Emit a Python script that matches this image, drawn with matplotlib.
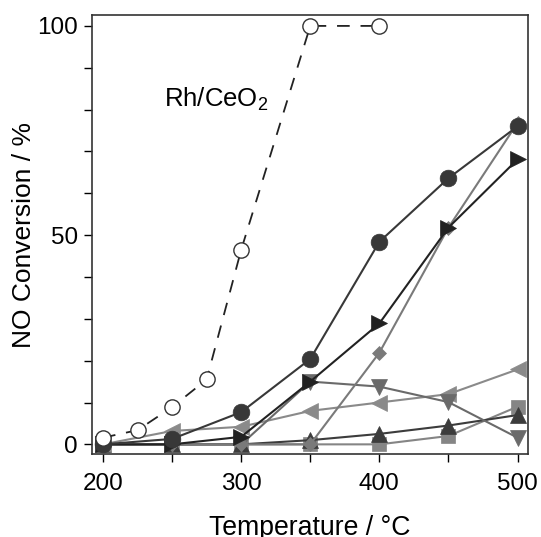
import numpy as np
import matplotlib
matplotlib.use("Agg")
import matplotlib.pyplot as plt
from matplotlib.ticker import MultipleLocator

plt.rcParams['font.family'] = ['Liberation Sans', 'DejaVu Sans']
plt.rcParams['mathtext.fontset'] = 'custom'
plt.rcParams['mathtext.rm'] = 'Liberation Sans'
plt.rcParams['mathtext.it'] = 'Liberation Sans'

# temperatures (deg C)
temp = [200, 250, 300, 350, 400, 450, 500]
temp_rh = [200, 225, 250, 275, 300, 350, 400]

# NO conversion (%)
rh_ceo2 = [1.6, 3.4, 8.9, 15.5, 46.5, 100, 100]
squares = [0, 0, 0, 0, 0, 2.0, 9.0]
up_tri = [0, 0, 0, 1.0, 2.5, 4.5, 7.0]
left_tri = [0, 3.2, 4.2, 8.0, 10.0, 12.0, 17.9]
down_tri = [0, 0, 0, 15.0, 13.8, 10.1, 1.6]
diamonds = [0, 0, 0, 0, 21.9, 51.8, 76.8]
right_tri = [0, 0, 1.8, 15.0, 28.9, 51.8, 68.1]
dark_circ = [0, 1.3, 7.7, 20.4, 48.4, 63.6, 76.0]

fig = plt.figure(figsize=(5.41, 5.37), dpi=100)
ax = fig.add_axes([0.1695, 0.1546, 0.807, 0.8174])

lw = 1.5
ax.plot(temp, squares, marker='s', ms=10, color='#858585', lw=lw, mew=0.5, zorder=2)
ax.plot(temp, up_tri, marker='^', ms=12, color='#3c3c3c', lw=lw, mew=0.5, zorder=2)
ax.plot(temp, left_tri, marker='<', ms=12, color='#8a8a8a', lw=lw, mew=0.5, zorder=2)
ax.plot(temp, down_tri, marker='v', ms=12, color='#6a6a6a', lw=lw, mew=0.5, zorder=2)
ax.plot(temp, diamonds, marker='D', ms=7.5, color='#7a7a7a', lw=lw, mew=0.5, zorder=3)
ax.plot(temp, right_tri, marker='>', ms=12, color='#222222', lw=lw, mew=0.5, zorder=3)
ax.plot(temp, dark_circ, marker='o', ms=12, color='#383838', lw=lw, mew=0.5, zorder=4)
ax.plot(temp_rh, rh_ceo2, marker='o', ms=11, color='#222222', lw=1.3,
        mfc='white', mec='#333333', mew=1.0, dashes=(7, 6), zorder=5)

ax.text(244, 80.6, 'Rh/CeO$_2$', fontsize=18.5, va='baseline', ha='left')

ax.set_xlim(191.8, 507.8)
ax.set_ylim(-2.3, 102.6)
ax.xaxis.set_major_locator(MultipleLocator(100))
ax.xaxis.set_minor_locator(MultipleLocator(50))
ax.yaxis.set_major_locator(MultipleLocator(50))
ax.yaxis.set_minor_locator(MultipleLocator(10))
ax.tick_params(which='both', direction='out', length=6, width=1.0,
               labelsize=17.5, top=False, right=False)
ax.tick_params(axis='x', which='major', pad=8)
ax.tick_params(axis='y', which='major', pad=4)

for s in ax.spines.values():
    s.set_linewidth(1.2)
    s.set_color('#333333')

ax.set_xlabel('Temperature / \u00b0C', fontsize=19.2, labelpad=14)
ax.set_ylabel('NO Conversion / %', fontsize=19, labelpad=1)

fig.savefig('out.png', dpi=100)
